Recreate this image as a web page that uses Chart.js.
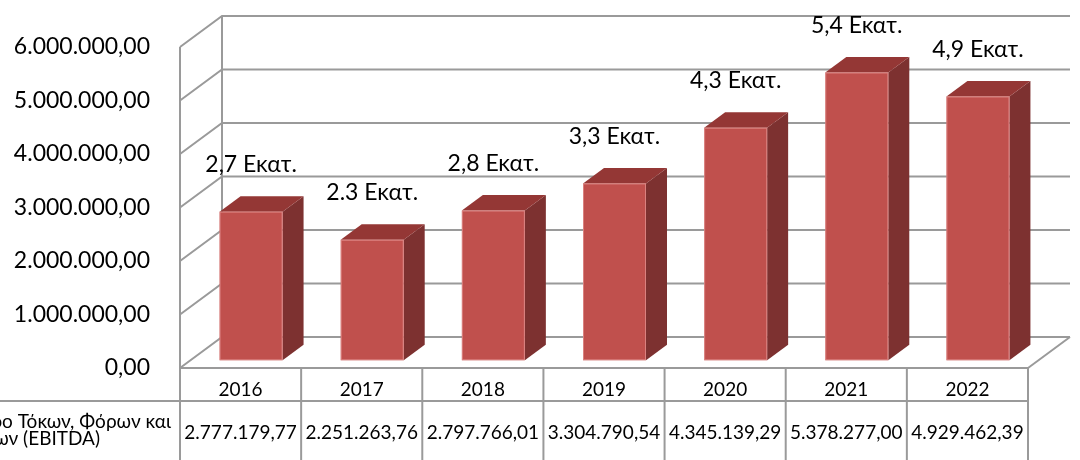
<!DOCTYPE html>
<html lang="el">
<head>
    <meta charset="UTF-8">
    <title>EBITDA</title>
    <script src="https://cdn.jsdelivr.net/npm/chart.js"></script>
    <style>
        html, body { margin: 0; padding: 0; background: #fff; }
        #chart { display: block; }
    </style>
</head>
<body>
    <canvas id="chart" width="1080" height="460"></canvas>
    <script>
        // data
        const years = ['2016', '2017', '2018', '2019', '2020', '2021', '2022'];
        const ebitda = [2777179.77, 2251263.76, 2797766.01, 3304790.54, 4345139.29, 5378277.00, 4929462.39];
        const barLabels = ['2,7 Εκατ.', '2.3 Εκατ.', '2,8 Εκατ.', '3,3 Εκατ.', '4,3 Εκατ.', '5,4 Εκατ.', '4,9 Εκατ.'];
        const seriesLines = ['Κέρδη προ Τόκων, Φόρων και', 'Αποσβέσεων (EBITDA)'];
        const yMin = 0, yMax = 6000000, yStep = 1000000;

        const FONT = 'Lato, "Open Sans", sans-serif';
        const DX = 42, DY = -31;          // depth of the 3d box
        const GRID = '#9a9a9a';

        // 1234567.8 -> "1.234.567,80"
        function fmt(v) {
            const parts = v.toFixed(2).split('.');
            return parts[0].replace(/\B(?=(\d{3})+(?!\d))/g, '.') + ',' + parts[1];
        }

        function line(ctx, x1, y1, x2, y2) {
            ctx.beginPath();
            ctx.moveTo(x1, y1);
            ctx.lineTo(x2, y2);
            ctx.stroke();
        }

        // walls + gridlines, drawn behind the bars
        const walls = {
            id: 'walls',
            beforeDatasetsDraw(chart) {
                const { ctx, chartArea: a, scales: { y } } = chart;
                ctx.save();
                ctx.strokeStyle = GRID;
                ctx.lineWidth = 2;
                line(ctx, a.left + DX, a.top + DY, a.left + DX, a.bottom + DY);
                y.ticks.forEach(t => {
                    const py = y.getPixelForValue(t.value);
                    ctx.beginPath();
                    ctx.moveTo(a.left, py);
                    ctx.lineTo(a.left + DX, py + DY);
                    ctx.lineTo(a.right + DX, py + DY);
                    ctx.stroke();
                });
                line(ctx, a.left, a.top, a.left, chart.height);
                line(ctx, a.left, a.bottom, a.right, a.bottom);
                line(ctx, a.right, a.bottom, a.right + DX, a.bottom + DY);
                ctx.restore();
            }
        };

        // 3d bars, value labels and the data table
        const bars3d = {
            id: 'bars3d',
            afterDatasetsDraw(chart) {
                const { ctx, chartArea: a, scales: { x } } = chart;
                const meta = chart.getDatasetMeta(0);
                const ox = DX * 0.25, oy = DY * 0.25;
                const dx = DX * 0.5, dy = DY * 0.5;
                ctx.save();
                meta.data.forEach((el, i) => {
                    const l = el.x - el.width / 2 + ox, r = el.x + el.width / 2 + ox;
                    const t = el.y + oy, b = el.base + oy;
                    // side
                    ctx.fillStyle = '#7d3130';
                    ctx.beginPath();
                    ctx.moveTo(r, t); ctx.lineTo(r + dx, t + dy); ctx.lineTo(r + dx, b + dy); ctx.lineTo(r, b);
                    ctx.closePath(); ctx.fill();
                    // top
                    ctx.fillStyle = '#943735';
                    ctx.beginPath();
                    ctx.moveTo(l, t); ctx.lineTo(l + dx, t + dy); ctx.lineTo(r + dx, t + dy); ctx.lineTo(r, t);
                    ctx.closePath(); ctx.fill();
                    // front
                    ctx.fillStyle = '#c0504d';
                    ctx.fillRect(l, t, r - l, b - t);
                    ctx.strokeStyle = 'rgba(230,150,148,0.7)';
                    ctx.lineWidth = 1;
                    ctx.strokeRect(l + 0.5, t + 0.5, r - l - 1, b - t - 1);

                    // value label
                    ctx.fillStyle = '#000';
                    ctx.font = '23px ' + FONT;
                    ctx.textAlign = 'center';
                    ctx.textBaseline = 'middle';
                    ctx.fillText(barLabels[i], el.x + ox, t - 47);
                });

                // data table
                const rowTop = a.bottom, rowMid = a.bottom + 33;
                const colW = (x.right - x.left) / years.length;
                ctx.strokeStyle = GRID;
                ctx.lineWidth = 2;
                line(ctx, 0, rowMid, a.right, rowMid);
                for (let i = 1; i <= years.length; i++) {
                    line(ctx, x.left + i * colW, rowTop, x.left + i * colW, chart.height);
                }
                ctx.fillStyle = '#000';
                ctx.textAlign = 'center';
                ctx.textBaseline = 'middle';
                ctx.font = '19px ' + FONT;
                years.forEach((yr, i) => {
                    const cx = x.getPixelForValue(i);
                    ctx.fillText(yr, cx, rowTop + 22);
                    ctx.fillText(fmt(ebitda[i]), cx, rowMid + 32);
                });
                // series name, cut off on the left like the original
                ctx.textAlign = 'right';
                ctx.fillText(seriesLines[0], a.left - 9, rowMid + 21);
                ctx.fillText(seriesLines[1], a.left - 80, rowMid + 38);
                ctx.restore();
            }
        };

        new Chart(document.getElementById('chart'), {
            type: 'bar',
            data: {
                labels: years,
                datasets: [{
                    label: seriesLines.join(' '),
                    data: ebitda,
                    backgroundColor: 'rgba(0,0,0,0)',
                    categoryPercentage: 1,
                    barPercentage: 0.52
                }]
            },
            options: {
                responsive: false,
                animation: false,
                devicePixelRatio: 1,
                layout: { padding: { left: 0, right: 52, top: 47, bottom: 92 } },
                plugins: {
                    legend: { display: false },
                    tooltip: { enabled: false }
                },
                scales: {
                    x: { display: false, offset: true },
                    y: {
                        min: yMin,
                        max: yMax,
                        afterFit: s => { s.width = 180; },
                        ticks: {
                            stepSize: yStep,
                            callback: v => fmt(v),
                            color: '#000',
                            padding: 22,
                            font: { family: FONT, size: 23 }
                        },
                        grid: { display: false },
                        border: { display: false }
                    }
                }
            },
            plugins: [walls, bars3d]
        });
    </script>
</body>
</html>
